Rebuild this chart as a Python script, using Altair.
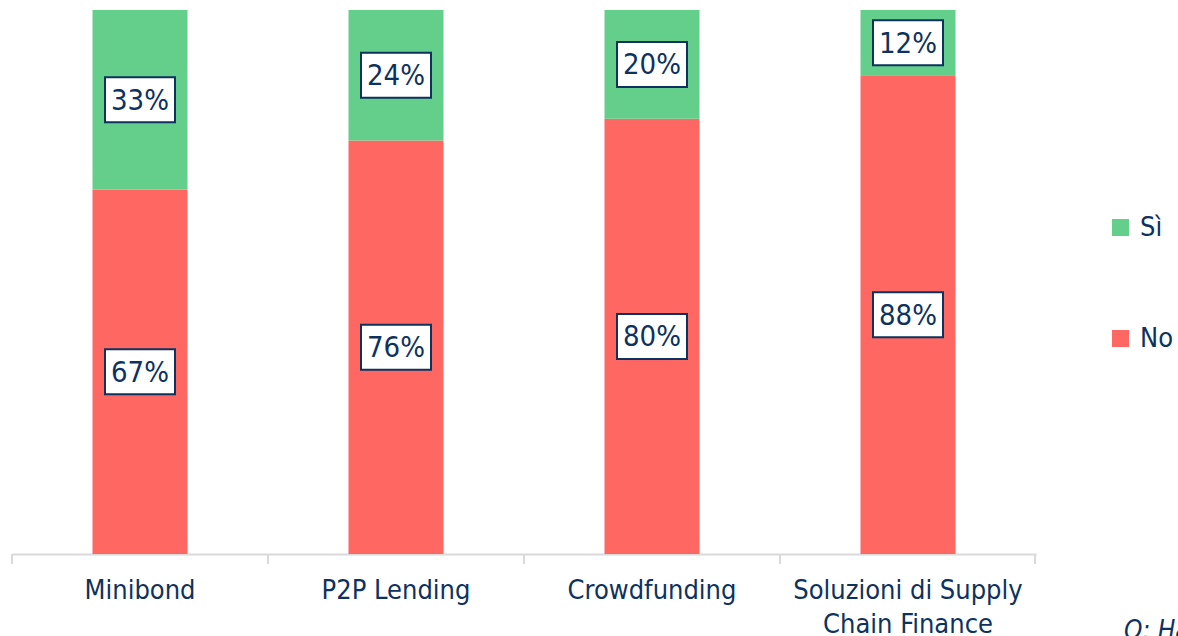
import altair as alt
import pandas as pd

categories = ["Minibond", "P2P Lending", "Crowdfunding", "Soluzioni di Supply Chain Finance"]
si_values = [33, 24, 20, 12]
no_values = [67, 76, 80, 88]
series = ["Sì", "No"]
colors = ["#63CF8A", "#FF6762"]
navy = "#0D325E"
FONT = "DejaVu Sans Condensed"

rows = []
for c, s, n in zip(categories, si_values, no_values):
    rows.append({"cat": c, "series": "No", "value": n, "ord": 0, "label": f"{n}%"})
    rows.append({"cat": c, "series": "Sì", "value": s, "ord": 1, "label": f"{s}%"})
df = pd.DataFrame(rows)

W, H = 1024, 544

x_enc = alt.X(
    "cat:N",
    sort=categories,
    scale=alt.Scale(paddingInner=0, paddingOuter=0),
    axis=alt.Axis(
        title=None,
        ticks=False,
        domain=True,
        domainColor="#D9D9D9",
        domainWidth=2,
        labelAngle=0,
        labelFont=FONT,
        labelFontSize=27,
        labelColor=navy,
        labelPadding=23,
        labelLineHeight=34,
        labelLimit=0,
        labelExpr="datum.label == 'Soluzioni di Supply Chain Finance' ? ['Soluzioni di Supply', 'Chain Finance'] : datum.label",
    ),
)

base = alt.Chart(df).transform_stack(
    stack="value", as_=["y0", "y1"], groupby=["cat"], sort=[alt.SortField("ord")]
).transform_calculate(mid="(datum.y0 + datum.y1) / 2")

yscale = alt.Scale(domain=[0, 100])

bars = base.mark_bar(size=95).encode(
    x=x_enc,
    y=alt.Y("y0:Q", scale=yscale, axis=None),
    y2="y1:Q",
    color=alt.Color(
        "series:N",
        scale=alt.Scale(domain=series, range=colors),
        legend=alt.Legend(
            title=None,
            orient="none",
            legendX=1095,
            legendY=204,
            symbolType="square",
            symbolSize=289,
            symbolStrokeWidth=0,
            labelFont=FONT,
            labelFontSize=27,
            labelColor=navy,
            labelOffset=6,
            rowPadding=83,
        ),
    ),
)

boxes = base.mark_point(
    shape="M-1,-0.643L1,-0.643L1,0.643L-1,0.643Z",
    size=4900,
    fill="white",
    fillOpacity=1,
    stroke=navy,
    strokeWidth=2,
    opacity=1,
).encode(x=alt.X("cat:N", sort=categories), y=alt.Y("mid:Q", scale=yscale))

texts = base.mark_text(font=FONT, fontSize=29, color=navy, baseline="middle", dy=1).encode(
    x=alt.X("cat:N", sort=categories), y=alt.Y("mid:Q", scale=yscale), text="label:N"
)

tick_df = pd.DataFrame({"cat": categories})
ticks = alt.Chart(tick_df).mark_rule(color="#D9D9D9", strokeWidth=2).encode(
    x=alt.X("cat:N", sort=categories, bandPosition=0),
    y=alt.value(H),
    y2=alt.value(H + 10),
)
end_tick = alt.Chart(tick_df).mark_rule(color="#D9D9D9", strokeWidth=2).encode(
    x=alt.value(W - 1), y=alt.value(H), y2=alt.value(H + 10)
)

note = alt.Chart(pd.DataFrame({"t": ["Q: Ha"]})).mark_text(
    font=FONT, fontSize=26, fontStyle="italic", color=navy, align="left", baseline="alphabetic"
).encode(x=alt.value(1112), y=alt.value(629), text="t:N")

chart = alt.layer(bars, boxes, texts, ticks, end_tick, note).properties(
    width=W,
    height=H,
    background="white",
    autosize=alt.AutoSizeParams(type="none"),
    padding={"left": 12, "top": 10, "right": 142, "bottom": 82},
).configure_view(strokeWidth=0, stroke=None)

chart.save("out.html", embed_options={"renderer": "svg", "actions": False})
